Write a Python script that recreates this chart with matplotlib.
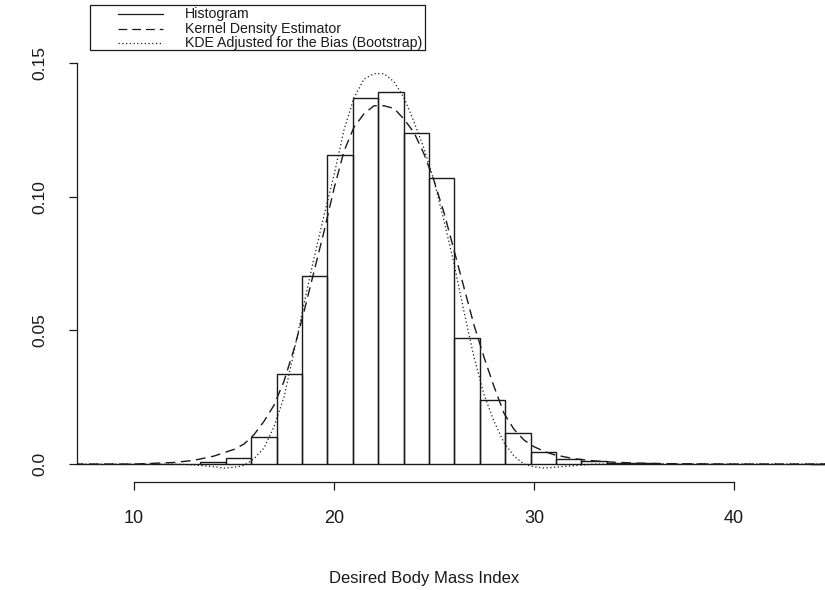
import matplotlib
matplotlib.use("Agg")
import matplotlib.pyplot as plt
from matplotlib.lines import Line2D
from matplotlib.patches import Rectangle

plt.rcParams["font.family"] = ["Liberation Sans", "DejaVu Sans"]

# Histogram of desired BMI (density scale)
bin_edges = [6.97, 8.24, 9.51, 10.78, 12.05, 13.32, 14.59, 15.86, 17.13, 18.40,
             19.67, 20.94, 22.21, 23.48, 24.75, 26.02, 27.29, 28.56, 29.83, 31.10,
             32.37, 33.64, 34.91, 36.18, 37.45, 38.72, 39.99, 41.26, 42.53, 43.80,
             45.07, 46.34]
hist_density = [0, 0, 0, 0, 0, 0.0008, 0.0022, 0.0101, 0.0338, 0.0705,
                0.1155, 0.137, 0.139, 0.124, 0.107, 0.0473, 0.0239, 0.0115, 0.0045,
                0.002, 0.001, 0.0005, 0.0003, 0, 0, 0, 0, 0, 0, 0, 0]

# Kernel density estimate
kde_x = [7, 10, 12, 13, 14, 15, 15.5, 16, 16.5, 17, 17.5, 18, 18.5, 19, 19.5,
         20, 20.5, 21, 21.5, 22, 22.5, 23, 23.5, 24, 24.5, 25, 25.5, 26, 26.5,
         27, 27.5, 28, 28.5, 29, 29.5, 30, 30.5, 31, 32, 33, 34, 35, 36, 38, 40, 46]
kde_y = [0, 0, 0.0006, 0.0014, 0.003, 0.0055, 0.0075, 0.011, 0.016, 0.022, 0.031,
         0.043, 0.057, 0.072, 0.087, 0.103, 0.117, 0.126, 0.131, 0.134, 0.134,
         0.133, 0.129, 0.124, 0.116, 0.106, 0.094, 0.080, 0.066, 0.052, 0.040,
         0.029, 0.019, 0.013, 0.009, 0.0065, 0.0048, 0.0035, 0.002, 0.0012, 0.0007,
         0.0004, 0.0002, 0.0001, 0, 0]

# Bias-adjusted KDE (bootstrap)
adj_x = [7, 10, 12, 13, 14, 14.5, 15, 15.5, 16, 16.5, 17, 17.5, 18, 18.5, 19, 19.5,
         20, 20.5, 21, 21.5, 22, 22.5, 23, 23.5, 24, 24.5, 25, 25.5, 26, 26.5,
         27, 27.5, 28, 28.5, 29, 29.5, 30, 30.5, 31, 32, 33, 34, 36, 46]
adj_y = [0, 0, 0, -0.0003, -0.001, -0.0015, -0.0012, -0.0005, 0.002, 0.006, 0.014,
         0.025, 0.042, 0.060, 0.077, 0.093, 0.108, 0.125, 0.137, 0.144, 0.146,
         0.146, 0.143, 0.137, 0.128, 0.118, 0.106, 0.091, 0.075, 0.057, 0.040,
         0.026, 0.016, 0.008, 0.003, 0.0, -0.001, -0.0015, -0.0012, -0.0006, 0,
         0, 0.0001, 0]

x_ticks = [10, 20, 30, 40]
y_ticks = [0.0, 0.05, 0.10, 0.15]
y_tick_labels = ["0.0", "0.05", "0.10", "0.15"]
legend_labels = ["Histogram", "Kernel Density Estimator",
                 "KDE Adjusted for the Bias (Bootstrap)"]
x_label = "Desired Body Mass Index"

W, H = 825, 590
ink = "#1a1a1a"
fig = plt.figure(figsize=(W / 100, H / 100), dpi=100)
ax = fig.add_axes([77 / W, 1 - 482 / H, (W - 77) / W, (482 - 40) / H])

widths = [b - a for a, b in zip(bin_edges[:-1], bin_edges[1:])]
ax.bar(bin_edges[:-1], hist_density, width=widths, align="edge", fill=False,
       edgecolor=ink, linewidth=1.0)
ax.plot(kde_x, kde_y, color=ink, linewidth=1.0, linestyle=(0, (7, 4)))
ax.plot(adj_x, adj_y, color=ink, linewidth=0.9, linestyle=(0, (1, 2)))

ax.set_xlim(7.15, 44.55)
ax.set_ylim(-0.0067, 0.1586)
for s in ("top", "right"):
    ax.spines[s].set_visible(False)
ax.spines["left"].set_bounds(0, 0.15)
ax.spines["bottom"].set_bounds(10, 40)
for s in ("left", "bottom"):
    ax.spines[s].set_color(ink)
    ax.spines[s].set_linewidth(0.9)

ax.set_xticks(x_ticks)
ax.set_xticklabels([str(t) for t in x_ticks])
ax.set_yticks(y_ticks)
ax.set_yticklabels(y_tick_labels, rotation=90, va="center")
ax.tick_params(axis="both", direction="out", length=6, width=0.9, color=ink,
               labelcolor=ink)
ax.tick_params(axis="x", pad=14, labelsize=13)
ax.tick_params(axis="y", pad=15, labelsize=12.5)


def fx(px):
    return px / W


def fy(py):
    return 1 - py / H


fig.text(fx(424), fy(578), x_label, fontsize=12, color=ink, ha="center", va="center")

# Legend box in figure pixel coordinates
fig.patches.append(Rectangle((fx(90), fy(50)), fx(425) - fx(90), fy(5) - fy(50),
                             transform=fig.transFigure, fill=False,
                             edgecolor=ink, linewidth=0.9))
styles = ["-", (0, (7, 4)), (0, (1, 2))]
rows = [14, 29, 43]
for lab, ls, ry in zip(legend_labels, styles, rows):
    fig.lines.append(Line2D([fx(118), fx(163)], [fy(ry), fy(ry)],
                            transform=fig.transFigure, color=ink,
                            linewidth=0.9, linestyle=ls))
    fig.text(fx(185), fy(ry), lab, fontsize=10.2, color=ink, va="center", ha="left")

fig.savefig("out.png", dpi=100)
